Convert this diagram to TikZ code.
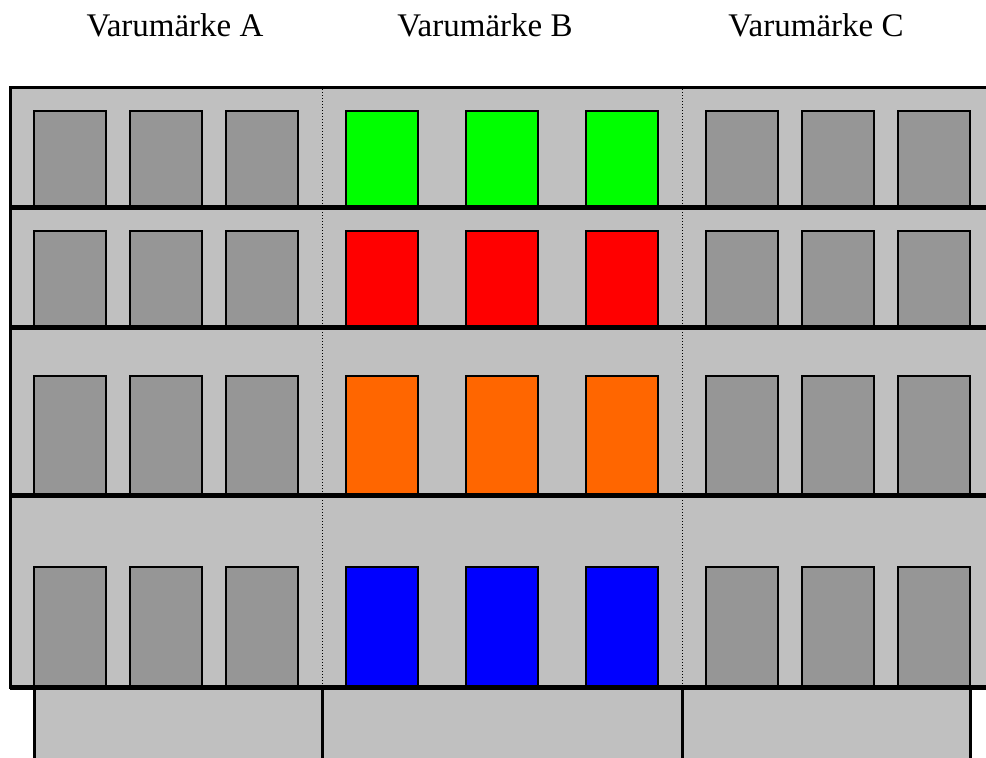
\documentclass[tikz,border=0pt]{standalone}
\usepackage{fontspec}
\setmainfont{Liberation Serif}
\definecolor{shelfbg}{HTML}{C0C0C0}
\definecolor{boxgray}{HTML}{969696}
\definecolor{bgreen}{HTML}{00FF00}
\definecolor{bred}{HTML}{FF0000}
\definecolor{borange}{HTML}{FF6600}
\definecolor{bblue}{HTML}{0000FF}
\begin{document}
\begin{tikzpicture}[x=1pt,y=-1pt,
  label/.style={font=\fontsize{33}{38}\selectfont, anchor=base, inner sep=0pt},
  shelf/.style={line width=5pt},
  frame/.style={line width=3pt},
  product/.style={draw=black, line width=1.6pt},
  divider/.style={dotted, line width=1pt}]
\useasboundingbox (0,0) rectangle (986,758);
% background
\fill[shelfbg] (10,87) rectangle (986,687);
\fill[shelfbg] (34,687) rectangle (970,758);
% dotted dividers
\draw[divider] (322,89) -- (322,687);
\draw[divider] (682,89) -- (682,687);
% products
\foreach \t/\b [count=\r] in {111/207, 231/327, 376/495, 567/687}{
  \foreach \x in {34,130,226,706,802,898}{
    \draw[product, fill=boxgray] (\x,\t) rectangle (\x+72,\b);
  }
}
\foreach \x in {346,466,586}{
  \draw[product, fill=bgreen] (\x,111) rectangle (\x+72,207);
  \draw[product, fill=bred] (\x,231) rectangle (\x+72,327);
  \draw[product, fill=borange] (\x,376) rectangle (\x+72,495);
  \draw[product, fill=bblue] (\x,567) rectangle (\x+72,687);
}
% shelves
\foreach \y in {207,327,495,687}{
  \draw[shelf] (10,\y) -- (986,\y);
}
% frame
\draw[frame] (986,87.5) -- (10,87.5) -- (10,689);
% base
\foreach \x in {34,322,682,970}{
  \draw[frame] (\x,688) -- (\x,758);
}
% labels
\node[label] (la) at (175,36) {Varumärke A};
\node[label] (lb) at (485,36) {Varumärke B};
\node[label] (lc) at (816,36) {Varumärke C};
\end{tikzpicture}
\end{document}
